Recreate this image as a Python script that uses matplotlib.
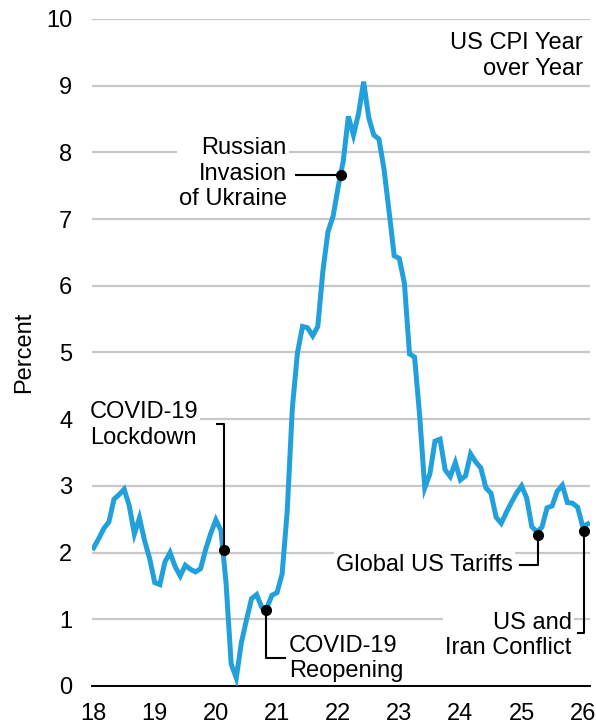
import numpy as np
from matplotlib import pyplot as plt

plt.rcParams['font.family'] = ['Liberation Sans', 'DejaVu Sans']

# monthly US CPI year over year, Jan 2018 .. Feb 2026
cpi_2018 = [2.07, 2.21, 2.36, 2.46, 2.80, 2.87, 2.95, 2.70, 2.28, 2.52, 2.18, 1.91]
cpi_2019 = [1.55, 1.52, 1.86, 2.00, 1.79, 1.65, 1.81, 1.75, 1.71, 1.76, 2.05, 2.29]
cpi_2020 = [2.49, 2.33, 1.54, 0.33, 0.12, 0.65, 0.99, 1.31, 1.37, 1.18, 1.17, 1.36]
cpi_2021 = [1.40, 1.68, 2.62, 4.16, 4.99, 5.39, 5.37, 5.25, 5.39, 6.22, 6.81, 7.04]
cpi_2022 = [7.48, 7.87, 8.54, 8.26, 8.58, 9.06, 8.52, 8.26, 8.20, 7.75, 7.11, 6.45]
cpi_2023 = [6.41, 6.04, 4.98, 4.93, 4.05, 2.97, 3.18, 3.67, 3.70, 3.24, 3.14, 3.35]
cpi_2024 = [3.09, 3.15, 3.48, 3.36, 3.27, 2.97, 2.89, 2.53, 2.44, 2.60, 2.75, 2.89]
cpi_2025 = [3.00, 2.82, 2.39, 2.31, 2.38, 2.67, 2.70, 2.92, 3.01, 2.75, 2.74, 2.68]
cpi_2026 = [2.39, 2.43]

cpi = np.array(cpi_2018 + cpi_2019 + cpi_2020 + cpi_2021 + cpi_2022
               + cpi_2023 + cpi_2024 + cpi_2025 + cpi_2026)
dates = 18 + np.arange(len(cpi)) / 12.0

year_ticks = [18, 19, 20, 21, 22, 23, 24, 25, 26]
year_labels = ["18", "19", "20", "21", "22", "23", "24", "25", "26"]

# events: dot position, elbow of the connector, label
ev_labels = ["COVID-19\nLockdown", "COVID-19\nReopening", "Russian\nInvasion\nof Ukraine",
             "Global US Tariffs", "US and\nIran Conflict"]
ev_dates = [20.128, 20.815, 22.04, 25.264, 26.017]
ev_values = [2.04, 1.14, 7.66, 2.26, 2.32]

fig = plt.figure(figsize=(5.96, 7.27), dpi=100)
ax = fig.add_axes([0.154, 0.0564, 0.836, 0.9175])

ax.set_xlim(17.97, 26.12)
ax.set_ylim(0, 10)
ax.set_yticks(range(0, 11))
ax.set_xticks(year_ticks)
ax.set_xticklabels(year_labels)
ax.grid(axis="y", color="#c8c8c8", lw=1.6, zorder=0)
ax.set_axisbelow(True)
for s in ["top", "right", "left"]:
    ax.spines[s].set_visible(False)
ax.spines["bottom"].set_color("black")
ax.spines["bottom"].set_linewidth(1.4)
ax.spines["bottom"].set_zorder(1)
ax.tick_params(length=0, labelsize=17, colors="black")
ax.tick_params(axis="y", pad=14)
ax.tick_params(axis="x", pad=12)
ax.set_ylabel("Percent", fontsize=17, labelpad=8)

ax.plot(dates, cpi, color="#21a0db", lw=3.6, zorder=3, solid_joinstyle="miter")

bb = dict(fc="white", ec="none", pad=1.5)
fs = 17
ls = 1.2

# lockdown
ax.plot([ev_dates[0], ev_dates[0], 20.01], [ev_values[0], 3.93, 3.93], color="black", lw=1.5, zorder=4)
ax.text(17.935, 3.91, ev_labels[0], ha="left", va="center", fontsize=fs, bbox=bb,
        linespacing=ls, zorder=2, clip_on=False)
# reopening
ax.plot([ev_dates[1], ev_dates[1], 21.125], [ev_values[1], 0.42, 0.42], color="black", lw=1.5, zorder=4)
ax.text(21.19, 0.41, ev_labels[1], ha="left", va="center", fontsize=fs, bbox=bb,
        linespacing=ls, zorder=2)
# russia
ax.plot([ev_dates[2], 21.305], [ev_values[2], ev_values[2]], color="black", lw=1.5, zorder=4)
ax.text(21.16, 7.68, ev_labels[2], ha="right", va="center", fontsize=fs, bbox=bb,
        linespacing=ls, multialignment="right", zorder=2)
# tariffs
ax.plot([ev_dates[3], ev_dates[3], 24.97], [ev_values[3], 1.81, 1.81], color="black", lw=1.5, zorder=4)
ax.text(24.855, 1.81, ev_labels[3], ha="right", va="center", fontsize=fs, bbox=bb, zorder=2)
# iran
ax.plot([ev_dates[4], ev_dates[4], 25.92], [ev_values[4], 0.795, 0.795], color="black", lw=1.5, zorder=4,
        clip_on=False)
ax.text(25.82, 0.757, ev_labels[4], ha="right", va="center", fontsize=fs, bbox=bb,
        linespacing=ls, multialignment="right", zorder=2)

ax.plot(ev_dates, ev_values, "o", color="black", ms=7, zorder=5, clip_on=False)

ax.text(26.0, 9.445, "US CPI Year\nover Year", ha="right", va="center", fontsize=fs,
        linespacing=ls, multialignment="right")

fig.savefig("out.png", dpi=100)
